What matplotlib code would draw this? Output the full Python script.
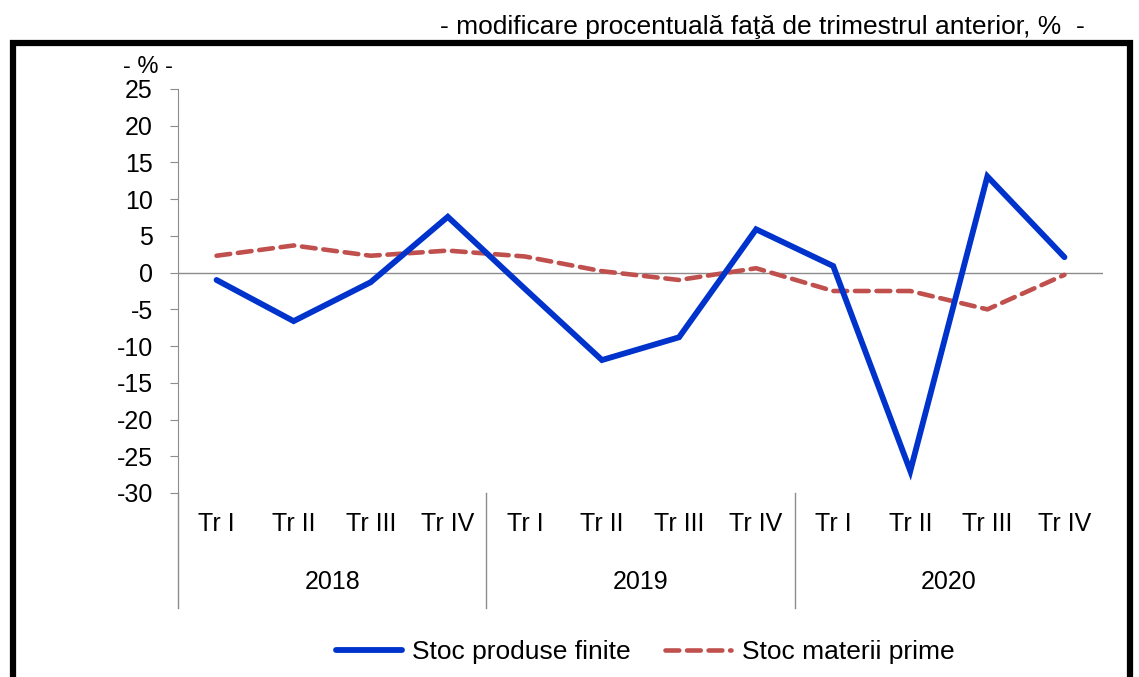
import matplotlib
matplotlib.use("Agg")
import matplotlib.pyplot as plt
from matplotlib.patches import Rectangle
from matplotlib.lines import Line2D

plt.rcParams['font.family'] = ['Liberation Sans', 'DejaVu Sans']

quarters = ["Tr I", "Tr II", "Tr III", "Tr IV"] * 3
years = ["2018", "2019", "2020"]
produse_finite = [-1.0, -6.6, -1.3, 7.6, -2.2, -11.9, -8.8, 5.9, 0.9, -27.0, 13.1, 2.1]
materii_prime = [2.3, 3.7, 2.3, 3.0, 2.2, 0.2, -1.0, 0.6, -2.5, -2.5, -5.0, -0.3]
yticks = list(range(-30, 30, 5))

W, H = 1139, 677
fs = 18
fig = plt.figure(figsize=(W / 100, H / 100), dpi=100)

# thick black frame (open at the bottom)
fig.patches.append(Rectangle((13 / W, -0.05), (1130 - 13) / W, 1.05 - 43 / H,
                             transform=fig.transFigure, fill=False,
                             edgecolor="black", linewidth=4.5))

ax = fig.add_axes([178 / W, 1 - 493 / H, (1103 - 178) / W, (493 - 89) / H])
x = list(range(len(quarters)))
ax.plot(x, produse_finite, color="#0033CC", lw=4.2, solid_joinstyle="miter",
        solid_capstyle="round", label="Stoc produse finite", zorder=3)
ax.plot(x, materii_prime, color="#C0504D", lw=3.3, dashes=(3.0, 1.7),
        dash_capstyle="round", label="Stoc materii prime", zorder=2)
ax.axhline(0, color="#8c8c8c", lw=1.0, zorder=1)

ax.set_xlim(-0.5, len(quarters) - 0.5)
ax.set_ylim(-30, 25)
ax.set_yticks(yticks)
ax.set_yticklabels([str(v) for v in yticks], fontsize=fs)
ax.set_xticks([])
for s in ["top", "right", "bottom"]:
    ax.spines[s].set_visible(False)
ax.spines["left"].set_color("#8c8c8c")
ax.tick_params(axis="y", direction="out", length=6, color="#8c8c8c", pad=12)

# category labels
for i, q in enumerate(quarters):
    ax.text(i, -0.077, q, transform=ax.get_xaxis_transform(), ha="center",
            va="center", fontsize=fs)
for j, yr in enumerate(years):
    ax.text(j * 4 + 1.5, -0.22, yr, transform=ax.get_xaxis_transform(),
            ha="center", va="center", fontsize=fs)
for b in [-0.5, 3.5, 7.5]:
    ax.add_line(Line2D([b, b], [0, -0.285], transform=ax.get_xaxis_transform(),
                       color="#8c8c8c", lw=1.0, clip_on=False))

fig.text(148 / W, 1 - 78 / H, "- % -", ha="center", va="bottom", fontsize=17)
fig.text(1085 / W, 1 - 27 / H, "- modificare procentuală faţă de trimestrul anterior, %  -",
         ha="right", va="center", fontsize=19)

ax.legend(loc="center", bbox_to_anchor=(645 / W, 1 - 652 / H),
          bbox_transform=fig.transFigure, ncol=2, frameon=False, fontsize=19,
          handlelength=2.5, handletextpad=0.4, columnspacing=1.3)

fig.savefig("out.png", dpi=100)
